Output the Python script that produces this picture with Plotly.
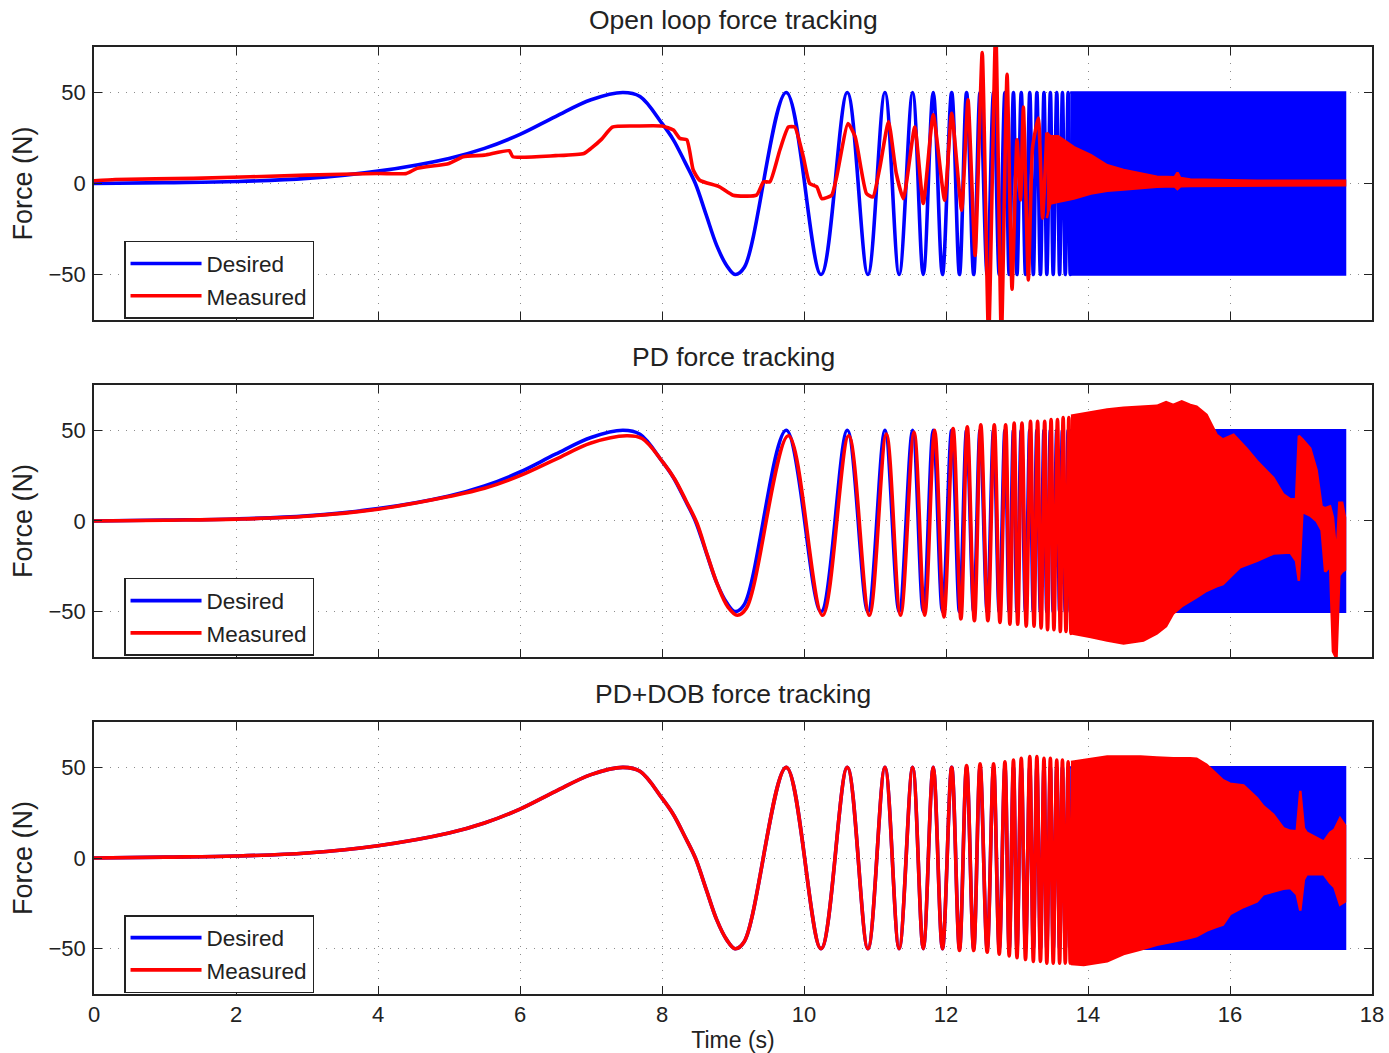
import plotly.graph_objects as go
from plotly.subplots import make_subplots

# ---------------- data ----------------
panel_titles = ["Open loop force tracking", "PD force tracking", "PD+DOB force tracking"]
series_names = ["Desired", "Measured"]
x_ticks = [0, 2, 4, 6, 8, 10, 12, 14, 16, 18]
y_ticks = [-50, 0, 50]

# Desired chirp: readable extrema / samples
desired_t = [0.0, 1.0, 2.0, 3.0, 4.0, 5.0, 5.5, 6.0, 6.5, 7.0, 7.45, 7.69, 8.0, 8.16, 8.32, 8.47, 8.62, 8.77, 8.91, 9.03, 9.16,
             9.75, 10.24, 10.61, 10.90, 11.14, 11.34, 11.53, 11.68, 11.82, 11.95,
             12.08, 12.19, 12.29, 12.39, 12.48, 12.58, 12.67, 12.75, 12.83, 12.89,
             12.95, 13.00, 13.06, 13.12, 13.18, 13.23, 13.28, 13.33, 13.38, 13.42,
             13.47, 13.51, 13.56, 13.60, 13.64, 13.68, 13.72, 13.75, 13.79]
desired_f = [0.0, 0.5, 1.1, 2.8, 6.8, 13.8, 19.3, 27.0, 36.8, 46.0, 50.0, 47.8, 33.0, 24.0, 12.0, 0.0, -17.0, -34.0, -45.0, -50.0, -46.0,
             50, -50, 50, -50, 50, -50, 50, -50, 50, -50,
             50, -50, 50, -50, 50, -50, 50, -50, 50, -50,
             50, -50, 50, -50, 50, -50, 50, -50, 50, -50,
             50, -50, 50, -50, 50, -50, 50, -50, 50]
# Desired dense part (envelope of the unresolvable oscillation)
desired_band_t = [13.75, 17.62]
desired_band_hi = [50, 50]
desired_band_lo = [-50, -50]

# Open loop measured
ol_t = [0.0, 0.3, 1.4, 3.0, 4.0, 4.4, 4.55, 5.0, 5.2, 5.5, 5.85, 5.9, 6.5, 6.9, 7.0, 7.15, 7.3, 7.6, 8.0,
        8.16, 8.25, 8.35, 8.44, 8.53, 8.81, 9.0, 9.33, 9.43, 9.52, 9.66, 9.78, 9.87, 9.99, 10.08, 10.18,
        10.25, 10.39, 10.46, 10.62, 10.72, 10.88, 10.97, 11.07, 11.19, 11.30, 11.40, 11.56, 11.68, 11.82,
        11.98, 12.08, 12.22, 12.31, 12.41, 12.51, 12.60, 12.70, 12.78, 12.86, 12.93, 13.0, 13.05, 13.09,
        13.16, 13.22, 13.30, 13.36, 13.42]
ol_f = [1.5, 2.2, 2.8, 4.6, 5.5, 5.5, 8.3, 11.0, 14.7, 15.6, 18.0, 14.7, 15.3, 16.5, 19.3, 24.4, 31.0, 31.6, 31.6,
        29.4, 24.8, 24.0, 7.4, 1.8, -1.8, -6.4, -6.4, 0.9, 0.9, 18.4, 31.0, 31.0, 14.7, 0.0, -1.8,
        -8.3, -6.4, 3.7, 33.0, 25.7, -5.5, -7.4, 9.2, 34.0, 5.5, -8.3, 31.0, -11.0, 37.7,
        -9.2, 38.6, -14.7, 46.0, -39.5, 72.0, -85.0, 85.0, -85.0, 60.0, -58.0, 24.0, -9.0, 42.0,
        -53.0, 20.0, 36.0, -19.0, 28.0]
ol_band_t = [13.42, 13.47, 13.58, 13.8, 14.04, 14.27, 14.5, 14.97, 15.22, 15.26, 15.3, 15.44, 16.38, 17.62]
ol_band_hi = [28, 26, 26, 20, 15.6, 10, 7.4, 3.7, 3.5, 6, 3, 2.2, 1.5, 1.5]
ol_band_lo = [-19, -11, -10, -8.3, -5.5, -4, -3.3, -1.8, -1.5, -3, -1.5, -1.3, -1, -1]

# PD measured
pd_t = [0.0, 1.0, 2.0, 3.0, 4.0, 5.0, 5.5, 6.0, 6.5, 7.0, 7.5, 7.72, 8.02, 8.18, 8.34, 8.49, 8.64, 8.79, 8.93, 9.06, 9.19,
        9.78, 10.26, 10.63, 10.92, 11.16, 11.36, 11.55, 11.70, 11.84, 11.97,
        12.10, 12.21, 12.30, 12.40, 12.49, 12.59, 12.68, 12.76, 12.84, 12.90,
        12.96, 13.01, 13.07, 13.13, 13.19, 13.24, 13.29, 13.34, 13.39, 13.43,
        13.48, 13.52, 13.57, 13.61, 13.65, 13.69, 13.73, 13.76, 13.80]
pd_f = [0.0, 0.4, 1.0, 2.6, 6.5, 13.5, 18.0, 25.0, 34.0, 43.0, 47.0, 45.5, 32.0, 23.0, 11.0, -1.0, -19.0, -36.0, -47.5, -52.0, -48.0,
        47, -52, 47, -52, 48, -52, 49, -52, 50, -53,
        51, -54, 52, -55, 53, -55, 53, -56, 53, -57,
        54, -57, 54, -58, 55, -58, 55, -59, 55, -60,
        56, -60, 56, -61, 57, -61, 57, -62, 58]
pd_band_t = [13.76, 14.04, 14.27, 14.5, 14.78, 14.97, 15.1, 15.2, 15.32, 15.44, 15.53, 15.67, 15.81, 15.9, 16.05,
             16.14, 16.23, 16.38, 16.61, 16.75, 16.85, 16.93, 16.97, 17.02, 17.13, 17.22, 17.29, 17.34, 17.41,
             17.45, 17.50, 17.54, 17.58, 17.62]
pd_band_hi = [58, 60, 61.5, 62.5, 63, 63.5, 65.5, 64, 66, 64, 63, 58.6, 47.6, 45, 47.6,
              44, 40, 33, 23.8, 14.7, 12, 12, 47, 45, 40, 28, 8, 7, 8,
              2, -20, 10, 10, 2]
pd_band_lo = [-62, -64, -66, -67.5, -66, -62, -58, -51, -47, -44, -42, -38.5, -36, -34.8, -29,
              -25.6, -24, -22, -18, -17.5, -17.4, -22, -33, 5, 3, 0, -5, -28, -25,
              -72, -76, -30, -28, -27]

# PD+DOB measured
dob_t = [0.0, 1.0, 2.0, 3.0, 4.0, 5.0, 5.5, 6.0, 6.5, 7.0, 7.45, 7.69, 8.0, 8.16, 8.32, 8.47, 8.62, 8.77, 8.91, 9.03, 9.16,
         9.75, 10.24, 10.61, 10.90, 11.14, 11.34, 11.53, 11.68, 11.82, 11.95,
         12.08, 12.19, 12.29, 12.39, 12.48, 12.58, 12.67, 12.75, 12.83, 12.89,
         12.95, 13.00, 13.06, 13.12, 13.18, 13.23, 13.28, 13.33, 13.38, 13.42,
         13.47, 13.51, 13.56, 13.60, 13.64, 13.68, 13.72, 13.75, 13.79]
dob_f = [0.0, 0.5, 1.1, 2.8, 6.8, 13.8, 19.3, 27.0, 36.8, 46.0, 50.0, 47.8, 33.0, 24.0, 12.0, 0.0, -17.0, -34.0, -45.0, -50.0, -46.0,
         50, -50, 50, -50, 50, -50, 50, -50, 50, -50,
         50, -51, 51, -51, 52, -52, 52, -53, 53, -54,
         54, -55, 55, -56, 56, -57, 56, -57, 55, -58,
         55, -58, 54, -58, 54, -58, 53, -58, 53]
dob_band_t = [13.76, 13.94, 14.27, 14.5, 14.74, 14.97, 15.2, 15.44, 15.53, 15.67, 15.81, 15.9, 16.0, 16.19,
              16.38, 16.47, 16.61, 16.75, 16.85, 16.94, 16.99, 17.04, 17.08, 17.32, 17.41, 17.47, 17.55, 17.62]
dob_band_hi = [53, 54, 56, 56, 56, 55.5, 55, 55, 54.8, 51.5, 46, 43, 41, 40,
               33, 28.5, 24, 16.5, 15, 14.7, 37, 16.5, 14, 9, 14, 15.6, 22, 18]
dob_band_lo = [-58.5, -59, -57, -53, -50.5, -47.8, -46, -44, -43, -40, -38, -36.8, -31, -27,
               -24, -20, -18.5, -17, -16.5, -20, -29, -12, -9, -9, -13.8, -16, -25.7, -24]

# ---------------- figure ----------------
BLUE = "#0000ff"
RED = "#ff0000"
TXT = "#222222"
FONT = "Liberation Sans, Arial, Helvetica, sans-serif"
LW = 3.6

fig = make_subplots(rows=3, cols=1)


def band_xy(t, hi, lo):
    return list(t) + list(t)[::-1], list(hi) + list(lo)[::-1]


measured = [
    (ol_t, ol_f, ol_band_t, ol_band_hi, ol_band_lo, 0.5),
    (pd_t, pd_f, pd_band_t, pd_band_hi, pd_band_lo, 1.0),
    (dob_t, dob_f, dob_band_t, dob_band_hi, dob_band_lo, 1.0),
]

for i in range(3):
    row = i + 1
    leg = "legend" if i == 0 else f"legend{i + 1}"
    mt, mf, bt, bhi, blo, smooth = measured[i]
    fig.add_trace(go.Scatter(x=desired_t, y=desired_f, mode="lines", name=series_names[0],
                             line=dict(color=BLUE, width=LW, shape="spline", smoothing=1.0),
                             legend=leg, showlegend=True), row=row, col=1)
    bx, by = band_xy(desired_band_t, desired_band_hi, desired_band_lo)
    fig.add_trace(go.Scatter(x=bx, y=by, mode="lines", fill="toself", fillcolor=BLUE,
                             line=dict(color=BLUE, width=2.5), legend=leg, showlegend=False,
                             hoverinfo="skip"), row=row, col=1)
    fig.add_trace(go.Scatter(x=mt, y=mf, mode="lines", name=series_names[1],
                             line=dict(color=RED, width=LW, shape="spline", smoothing=smooth),
                             legend=leg, showlegend=True), row=row, col=1)
    bx, by = band_xy(bt, bhi, blo)
    fig.add_trace(go.Scatter(x=bx, y=by, mode="lines", fill="toself", fillcolor=RED,
                             line=dict(color=RED, width=2.5), legend=leg, showlegend=False,
                             hoverinfo="skip"), row=row, col=1)

# plot area in px: x 94..1372, y 47..994
domains = [[0.7117, 1.0], [0.3559, 0.6431], [0.0, 0.2872]]
title_y = [1.0285, 0.6727, 0.3168]
legend_y = [0.7952, 0.4393, 0.0834]

axis_common = dict(showline=True, linecolor="#222222", linewidth=1.5, mirror="allticks",
                   ticks="inside", ticklen=8, tickwidth=1.2, tickcolor="#222222",
                   showgrid=True, gridcolor="#8c8c8c", griddash="1px,7px", gridwidth=1,
                   zeroline=False, tickfont=dict(family=FONT, size=22, color=TXT))

for i in range(3):
    xa = "xaxis" if i == 0 else f"xaxis{i + 1}"
    ya = "yaxis" if i == 0 else f"yaxis{i + 1}"
    fig.layout[xa].update(range=[0, 18], tickvals=x_ticks, showticklabels=(i == 2),
                          ticklabelstandoff=0, **axis_common)
    fig.layout[ya].update(range=[-75, 75], tickvals=y_ticks, domain=domains[i],
                          ticklabelstandoff=2, **axis_common)
    fig.layout[ya].title = dict(text="Force (N)", font=dict(family=FONT, size=27, color=TXT), standoff=8)
    fig.add_annotation(text=panel_titles[i], x=0.5, y=title_y[i], xref="paper", yref="paper",
                       xanchor="center", yanchor="middle", showarrow=False,
                       font=dict(family=FONT, size=26.5, color=TXT))

fig.layout.xaxis3.title = dict(text="Time (s)", font=dict(family=FONT, size=23, color=TXT), standoff=16)

for i in range(3):
    lg = "legend" if i == 0 else f"legend{i + 1}"
    fig.layout[lg] = dict(x=0.0235, y=legend_y[i], xanchor="left", yanchor="top",
                          bgcolor="white", bordercolor="#222222", borderwidth=1.5,
                          font=dict(family=FONT, size=22.5, color=TXT),
                          itemwidth=71, tracegroupgap=0)

fig.update_layout(width=1389, height=1053, margin=dict(l=94, r=17, t=47, b=59, autoexpand=False),
                  plot_bgcolor="white", paper_bgcolor="white",
                  font=dict(family=FONT, color=TXT))

fig.write_html("out.html", config={"displayModeBar": False},
               post_script="document.body.style.margin='0px';document.body.style.overflow='hidden';")
